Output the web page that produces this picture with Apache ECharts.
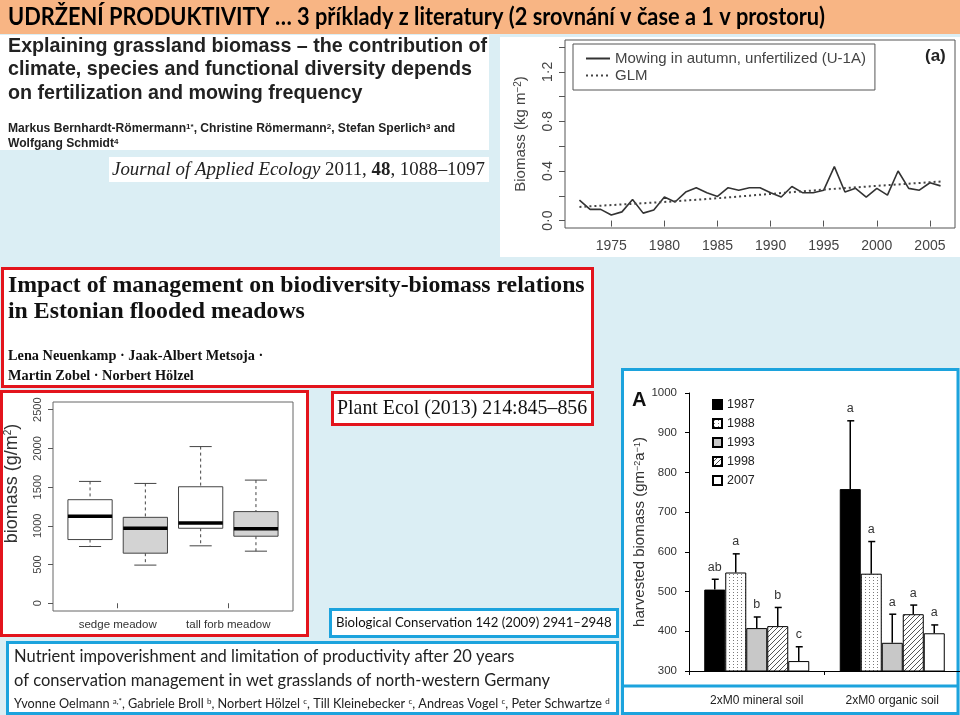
<!DOCTYPE html>
<html><head><meta charset="utf-8">
<script src="https://cdn.jsdelivr.net/npm/echarts@6/dist/echarts.min.js"></script>
<style>html,body{margin:0;padding:0;background:#DBEEF4}#c{width:960px;height:715px}</style>
</head><body><div id="c"></div>
<script>
// ---------------- DATA ----------------
// (a) Mowing in autumn, unfertilized (U-1A)
const lineYears = [1972,1973,1974,1975,1976,1977,1978,1979,1980,1981,1982,1983,1984,1985,1986,1987,1988,1989,1990,1991,1992,1993,1994,1995,1996,1997,1998,1999,2000,2001,2002,2003,2004,2005,2006];
const lineBiomass = [0.165,0.09,0.09,0.045,0.07,0.17,0.06,0.085,0.19,0.15,0.23,0.265,0.225,0.195,0.265,0.245,0.265,0.265,0.225,0.19,0.275,0.225,0.225,0.245,0.435,0.23,0.26,0.19,0.26,0.205,0.40,0.26,0.245,0.305,0.28];
const glmYears = [1972,1980,1985,1990,1995,2000,2006];
const glmBiomass = [0.11,0.15,0.18,0.215,0.25,0.28,0.315];
const lineSeriesNames = ['Mowing in autumn, unfertilized (U-1A)','GLM'];
const lineXTicks = [1975,1980,1985,1990,1995,2000,2005];
const lineYTicks = [0,0.2,0.4,0.6,0.8,1.0,1.2,1.4];
const lineYLabels = [0,0.4,0.8,1.2];

// Box plot: biomass (g/m2)  [lower whisker, Q1, median, Q3, upper whisker]
const boxGroups = ['sedge meadow','tall forb meadow'];
const boxStats = [
  [733, 823, 1123, 1338, 1574],
  [493, 647, 969, 1110, 1548],
  [742, 969, 1038, 1505, 2024],
  [673, 866, 961, 1184, 1591]
];
const boxYTicks = [0,500,1000,1500,2000,2500];

// Bar chart: harvested biomass
const barSoils = ['2xM0 mineral soil','2xM0 organic soil'];
const barYears = ['1987','1988','1993','1998','2007'];
const barMeans = [[505,758],[548,545],[408,371],[413,443],[325,395]];
const barErrors = [[26,172],[47,81],[28,72],[47,23],[36,21]];
const barLetters = [['ab','a'],['a','a'],['b','a'],['b','a'],['c','a']];

// ---------------- STYLE ----------------
const SANS = '"Liberation Sans", Arial, sans-serif';
const SERIF = '"Liberation Serif", "Times New Roman", serif';
const HUM = 'Lato, "Open Sans", sans-serif';
const RED = '#E3141C', BLUE = '#1CA3DD';

function makeDots(){const c=document.createElement('canvas');c.width=4;c.height=3;const x=c.getContext('2d');x.fillStyle='#fff';x.fillRect(0,0,4,3);x.fillStyle='#7a7a7a';x.fillRect(1,1,1,1);return c;}
function makeHatch(){const c=document.createElement('canvas');c.width=5;c.height=5;const x=c.getContext('2d');x.fillStyle='#fff';x.fillRect(0,0,5,5);x.strokeStyle='#555';x.lineWidth=1;x.beginPath();x.moveTo(0,5);x.lineTo(5,0);x.moveTo(-1,1);x.lineTo(1,-1);x.moveTo(4,6);x.lineTo(6,4);x.stroke();return c;}
const barFills = ['#000',{image:makeDots(),repeat:'repeat'},'#c8c8c8',{image:makeHatch(),repeat:'repeat'},'#fff'];
const boxFills = ['#fff','#d3d3d3','#fff','#d3d3d3'];
const BAR_W = 21;

function rect(x,y,w,h,fill,stroke,lw,z){return {type:'rect',z:z==null?-10:z,shape:{x:x,y:y,width:w,height:h},style:{fill:fill||'none',stroke:stroke||null,lineWidth:lw||0}};}
function txt(x,y,t,o,extra){return Object.assign({type:'text',z:50,x:x,y:y,style:Object.assign({text:t,fill:'#1a1a1a',verticalAlign:'middle',align:'left'},o)},extra||{});}

const graphics = [
  rect(0,0,960,34,'#F8B584'),
  txt(8,17,'UDRŽENÍ PRODUKTIVITY … 3 příklady z literatury (2 srovnání v čase a 1 v prostoru)',{fontFamily:HUM,fontWeight:'bold',fontSize:24,fill:'#000'},{scaleX:0.907}),
  rect(0,35,489,115,'#fff'),
  txt(8,47,'Explaining grassland biomass – the contribution of',{fontFamily:SANS,fontWeight:'bold',fontSize:19.7,fill:'#222'}),
  txt(8,70,'climate, species and functional diversity depends',{fontFamily:SANS,fontWeight:'bold',fontSize:19.7,fill:'#222'}),
  txt(8,94,'on fertilization and mowing frequency',{fontFamily:SANS,fontWeight:'bold',fontSize:19.7,fill:'#222'}),
  txt(8,129,'Markus Bernhardt-Römermann{s|1*}, Christine Römermann{s|2}, Stefan Sperlich{s|3} and',{fontFamily:SANS,fontWeight:'bold',fontSize:12.1,fill:'#222',rich:{s:{fontFamily:SANS,fontWeight:'bold',fontSize:8,verticalAlign:'top',fill:'#222'}}}),
  txt(8,144,'Wolfgang Schmidt{s|4}',{fontFamily:SANS,fontWeight:'bold',fontSize:12.1,fill:'#222',rich:{s:{fontFamily:SANS,fontWeight:'bold',fontSize:8,verticalAlign:'top',fill:'#222'}}}),
  rect(109,157,380,25,'#fff'),
  txt(112,170,'{i|Journal of Applied Ecology} 2011, {b|48}, 1088–1097',{fontFamily:SERIF,fontSize:18.9,fill:'#222',rich:{i:{fontFamily:SERIF,fontStyle:'italic',fontSize:18.9,fill:'#222'},b:{fontFamily:SERIF,fontWeight:'bold',fontSize:18.9,fill:'#222'}}}),
  rect(500,37,460,220,'#fff'),
  txt(925,56,'(a)',{fontFamily:SANS,fontWeight:'bold',fontSize:17,fill:'#222'}),
  // red boxes
  rect(2.5,268.5,590,118,'#fff',RED,3),
  txt(8,286,'Impact of management on biodiversity-biomass relations',{fontFamily:SERIF,fontWeight:'bold',fontSize:23.8,fill:'#111'}),
  txt(8,312,'in Estonian flooded meadows',{fontFamily:SERIF,fontWeight:'bold',fontSize:23.8,fill:'#111'}),
  txt(8,356,'Lena Neuenkamp · Jaak-Albert Metsoja ·',{fontFamily:SERIF,fontWeight:'bold',fontSize:14.3,fill:'#111'}),
  txt(8,376,'Martin Zobel · Norbert Hölzel',{fontFamily:SERIF,fontWeight:'bold',fontSize:14.3,fill:'#111'}),
  rect(1.5,391.5,306,244,'#fff',RED,3),
  rect(332.5,392.5,260,32,'#fff',RED,3),
  txt(337,409,'Plant Ecol (2013) 214:845–856',{fontFamily:SERIF,fontSize:19.9,fill:'#111'}),
  // blue boxes
  rect(330.5,609.5,287,27,'#fff',BLUE,3),
  txt(336,623,'Biological Conservation 142 (2009) 2941–2948',{fontFamily:HUM,fontSize:13.2,fill:'#111'}),
  rect(7.5,642.5,610,71,'#fff',BLUE,3),
  txt(14,657,'Nutrient impoverishment and limitation of productivity after 20 years',{fontFamily:HUM,fontSize:16.5,fill:'#222'}),
  txt(14,681,'of conservation management in wet grasslands of north-western Germany',{fontFamily:HUM,fontSize:16.5,fill:'#222'}),
  txt(14,704,'Yvonne Oelmann {s|a,*}, Gabriele Broll {s|b}, Norbert Hölzel {s|c}, Till Kleinebecker {s|c}, Andreas Vogel {s|c}, Peter Schwartze {s|d}',{fontFamily:HUM,fontSize:12.7,fill:'#222',rich:{s:{fontFamily:HUM,fontSize:8,verticalAlign:'top',fill:'#222'}}}),
  rect(622.5,369.5,335.5,344,'#fff',BLUE,3),
  {type:'line',z:40,shape:{x1:622,y1:686,x2:958,y2:686},style:{stroke:BLUE,lineWidth:3}},
  txt(632,400,'A',{fontFamily:SANS,fontWeight:'bold',fontSize:20,fill:'#111'})
];

// ---------------- SERIES ----------------
const series = [
  {type:'line',name:lineSeriesNames[0],xAxisIndex:0,yAxisIndex:0,symbol:'none',
   data:lineYears.map((y,i)=>[y,lineBiomass[i]]),lineStyle:{color:'#333',width:1.6},itemStyle:{color:'#333'}},
  {type:'line',name:lineSeriesNames[1],xAxisIndex:0,yAxisIndex:0,symbol:'none',
   data:glmYears.map((y,i)=>[y,glmBiomass[i]]),lineStyle:{color:'#444',width:2,type:[2,3]},itemStyle:{color:'#444'}},
  {type:'custom',xAxisIndex:1,yAxisIndex:1,clip:false,
   data:boxStats.map((s,i)=>[i+1].concat(s)),
   encode:{x:0,y:[1,2,3,4,5]},
   renderItem:function(params,api){
     const pos=api.value(0), lo=api.value(1), q1=api.value(2), md=api.value(3), q3=api.value(4), hi=api.value(5);
     const hw=api.size([0.8,0])[0]/2, cw=hw/2;
     const pLo=api.coord([pos,lo]), pQ1=api.coord([pos,q1]), pMd=api.coord([pos,md]), pQ3=api.coord([pos,q3]), pHi=api.coord([pos,hi]);
     const x=pMd[0];
     const dash={stroke:'#444',lineWidth:1,lineDash:[3,3]};
     const solid={stroke:'#444',lineWidth:1};
     return {type:'group',children:[
       {type:'line',shape:{x1:x,y1:pHi[1],x2:x,y2:pQ3[1]},style:dash},
       {type:'line',shape:{x1:x,y1:pQ1[1],x2:x,y2:pLo[1]},style:dash},
       {type:'line',shape:{x1:x-cw,y1:pHi[1],x2:x+cw,y2:pHi[1]},style:solid},
       {type:'line',shape:{x1:x-cw,y1:pLo[1],x2:x+cw,y2:pLo[1]},style:solid},
       {type:'rect',shape:{x:x-hw,y:pQ3[1],width:2*hw,height:pQ1[1]-pQ3[1]},style:{fill:boxFills[params.dataIndex],stroke:'#444',lineWidth:1}},
       {type:'line',shape:{x1:x-hw,y1:pMd[1],x2:x+hw,y2:pMd[1]},style:{stroke:'#000',lineWidth:3.5}}
     ]};
   }}
];
barYears.forEach((yr,i)=>{
  series.push({type:'bar',name:yr,xAxisIndex:2,yAxisIndex:2,barWidth:BAR_W,barGap:'0%',
    data:barMeans[i],itemStyle:{color:barFills[i],borderColor:'#000',borderWidth:1}});
});
const errData=[];
barYears.forEach((yr,i)=>{barSoils.forEach((s,g)=>{errData.push([g,barMeans[i][g],barErrors[i][g],i]);});});
series.push({type:'custom',xAxisIndex:2,yAxisIndex:2,clip:false,z:5,data:errData,encode:{x:0,y:1},
  renderItem:function(params,api){
    const g=api.value(0), m=api.value(1), e=api.value(2), i=api.value(3);
    const base=api.coord([g,m]), top=api.coord([g,m+e]);
    const x=base[0]+(i-(barYears.length-1)/2)*BAR_W;
    return {type:'group',children:[
      {type:'line',shape:{x1:x,y1:base[1],x2:x,y2:top[1]},style:{stroke:'#000',lineWidth:1.5}},
      {type:'line',shape:{x1:x-3,y1:top[1],x2:x+4,y2:top[1]},style:{stroke:'#000',lineWidth:1.5}},
      {type:'text',x:x,y:top[1]-12,style:{text:barLetters[i][g],fontFamily:SANS,fontSize:12.5,fill:'#333',align:'center',verticalAlign:'middle'}}
    ]};
  }});

const option = {
  animation:false,
  backgroundColor:'#DBEEF4',
  graphic:{elements:graphics},
  grid:[
    {left:565,top:40,width:390,height:188,show:true,borderColor:'#555',borderWidth:1,backgroundColor:'transparent'},
    {left:53,top:402,width:240,height:209,show:true,borderColor:'#666',borderWidth:1,backgroundColor:'transparent'},
    {left:689,top:393,width:271,height:278}
  ],
  legend:[
    {data:lineSeriesNames,orient:'vertical',left:573,top:44,padding:[7,9,7,12],itemWidth:24,itemHeight:12,itemGap:2,
     itemStyle:{opacity:0},
     borderColor:'#555',borderWidth:1,backgroundColor:'#fff',textStyle:{fontFamily:SANS,fontSize:15,color:'#444'}},
    {data:barYears,orient:'vertical',left:707,top:393,itemWidth:9,itemHeight:9,itemGap:6,icon:'rect',
     textStyle:{fontFamily:SANS,fontSize:12.5,color:'#222'}}
  ],
  xAxis:[
    {gridIndex:0,type:'value',min:1970.64,max:2007.36,axisLine:{show:false},splitLine:{show:false},
     axisTick:{show:true,customValues:lineXTicks,length:6,lineStyle:{color:'#555'}},
     axisLabel:{customValues:lineXTicks,formatter:v=>String(v),fontFamily:SANS,fontSize:14,color:'#444',margin:11}},
    {gridIndex:1,type:'value',min:0.33,max:4.67,axisLine:{show:false},splitLine:{show:false},
     axisTick:{show:true,customValues:[1.5,3.5],length:5,lineStyle:{color:'#555'}},
     axisLabel:{customValues:[1.5,3.5],formatter:v=>boxGroups[Math.round((v-1.5)/2)],fontFamily:SANS,fontSize:11.5,color:'#333',margin:8}},
    {gridIndex:2,type:'category',data:barSoils,axisLine:{lineStyle:{color:'#000'}},
     axisTick:{show:true,alignWithLabel:false,interval:0,length:4,lineStyle:{color:'#000'}},
     axisLabel:{fontFamily:SANS,fontSize:12,color:'#222',margin:24,interval:0}}
  ],
  yAxis:[
    {gridIndex:0,type:'value',min:-0.06,max:1.457,axisLine:{show:false},splitLine:{show:false},
     axisTick:{show:true,customValues:lineYTicks,length:6,lineStyle:{color:'#555'}},
     axisLabel:{customValues:lineYLabels,rotate:90,formatter:v=>v.toFixed(1).replace('.','·'),fontFamily:SANS,fontSize:14,color:'#444',margin:10},
     name:'Biomass (kg m{s|−2})',nameLocation:'middle',nameGap:37,
     nameTextStyle:{fontFamily:SANS,fontSize:15,color:'#444',rich:{s:{fontFamily:SANS,fontSize:10,color:'#444',verticalAlign:'top'}}}},
    {gridIndex:1,type:'value',min:-100,max:2600,axisLine:{show:false},splitLine:{show:false},
     axisTick:{show:true,customValues:boxYTicks,length:5,lineStyle:{color:'#555'}},
     axisLabel:{customValues:boxYTicks,formatter:v=>String(v),rotate:90,fontFamily:SANS,fontSize:11,color:'#444',margin:10},
     name:'biomass (g/m{s|2})',nameLocation:'middle',nameGap:32,
     nameTextStyle:{fontFamily:SANS,fontSize:18,color:'#333',padding:[0,0,0,46],rich:{s:{fontFamily:SANS,fontSize:10,color:'#333',verticalAlign:'top'}}}},
    {gridIndex:2,type:'value',min:300,max:1000,interval:100,axisLine:{show:true,lineStyle:{color:'#000'}},splitLine:{show:false},
     axisTick:{show:true,length:4,lineStyle:{color:'#000'}},
     axisLabel:{formatter:v=>String(v),fontFamily:SANS,fontSize:11.5,color:'#333',margin:12},
     name:'harvested biomass (gm{s|−2}a{s|−1})',nameLocation:'middle',nameGap:41,
     nameTextStyle:{fontFamily:SANS,fontSize:15,color:'#333',rich:{s:{fontFamily:SANS,fontSize:9,color:'#333',verticalAlign:'top'}}}}
  ],
  series:series
};
const chart = echarts.init(document.getElementById('c'),null,{renderer:'canvas',width:960,height:715});
chart.setOption(option);
</script>
</body></html>
